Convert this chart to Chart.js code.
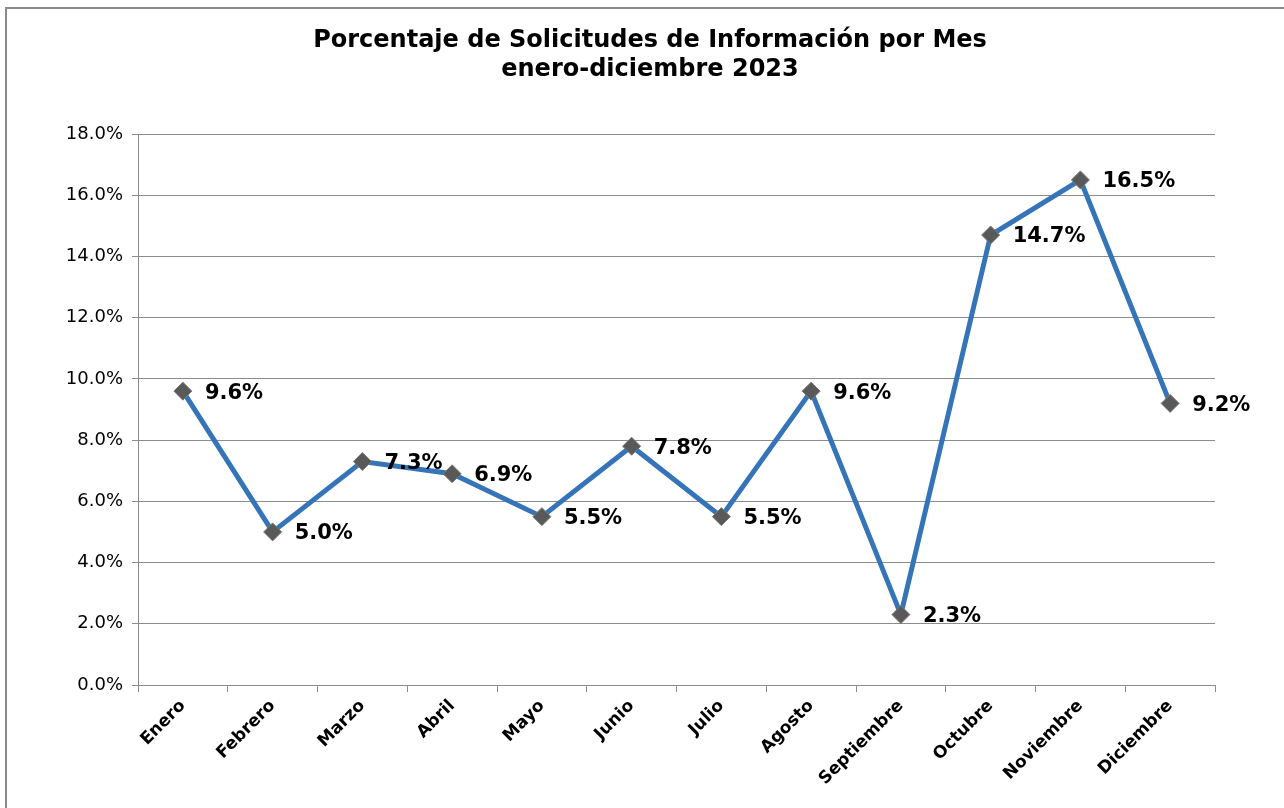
<!DOCTYPE html>
<html>
<head>
<meta charset="utf-8">
<script src="https://cdn.jsdelivr.net/npm/chart.js@4"></script>
<style>
  html, body { margin: 0; padding: 0; background: #fff; }
  #wrap { width: 1284px; height: 808px; position: relative; }
</style>
</head>
<body>
<div id="wrap"><canvas id="chart" width="1284" height="808"></canvas></div>
<script>
// Chart data
const months = ["Enero", "Febrero", "Marzo", "Abril", "Mayo", "Junio", "Julio", "Agosto", "Septiembre", "Octubre", "Noviembre", "Diciembre"]
const percentages = [9.6, 5.0, 7.3, 6.9, 5.5, 7.8, 5.5, 9.6, 2.3, 14.7, 16.5, 9.2]
const titleLines = ["Porcentaje de Solicitudes de Información por Mes", "enero-diciembre 2023"]
const yMax = 18
const yStep = 2

const FONT = "'DejaVu Sans', Verdana, sans-serif"
const LINE_BLUE = "#3474b7"
const GRID = "#8c8c8c"

// Frame, title and point labels
const decorations = {
  id: "decorations",
  beforeDraw(chart) {
    const ctx = chart.ctx
    ctx.save()
    ctx.fillStyle = "#fff"
    ctx.fillRect(0, 0, chart.width, chart.height)
    ctx.strokeStyle = "#8a8a8a"
    ctx.lineWidth = 2
    ctx.beginPath()
    ctx.moveTo(6, chart.height)
    ctx.lineTo(6, 8)
    ctx.lineTo(chart.width, 8)
    ctx.stroke()
    ctx.restore()
  },
  afterDraw(chart) {
    const ctx = chart.ctx
    ctx.save()
    ctx.fillStyle = "#000"
    ctx.textAlign = "center"
    ctx.textBaseline = "middle"
    ctx.font = "bold 24px " + FONT
    ctx.fillText(titleLines[0], 650, 41)
    ctx.fillText(titleLines[1], 650, 70)

    ctx.font = "bold 21px " + FONT
    ctx.textAlign = "left"
    const meta = chart.getDatasetMeta(0)
    meta.data.forEach((pt, i) => {
      ctx.fillText(percentages[i].toFixed(1) + "%", pt.x + 22, pt.y + 2)
    })
    ctx.restore()
  },
}

new Chart(document.getElementById("chart"), {
  type: "line",
  data: {
    labels: months,
    datasets: [{
      data: percentages,
      borderColor: LINE_BLUE,
      borderWidth: 5,
      tension: 0,
      pointStyle: "rectRot",
      pointRadius: 9,
      pointHoverRadius: 9,
      pointBackgroundColor: "#595959",
      pointBorderColor: "#7a7a7a",
      pointBorderWidth: 1,
    }],
  },
  options: {
    responsive: false,
    animation: false,
    layout: { padding: { top: 134, left: 16, right: 69, bottom: 0 } },
    plugins: {
      legend: { display: false },
      title: { display: false },
      tooltip: { enabled: false },
    },
    scales: {
      x: {
        offset: true,
        grid: { offset: true, drawOnChartArea: false, color: GRID, tickLength: 7 },
        border: { color: GRID, width: 1 },
        ticks: {
          color: "#000",
          font: { family: FONT, size: 17, weight: "bold" },
          maxRotation: 45,
          minRotation: 45,
          padding: 4,
        },
        afterFit(axis) { axis.height = 123 },
      },
      y: {
        min: 0,
        max: yMax,
        ticks: {
          stepSize: yStep,
          color: "#000",
          font: { family: FONT, size: 18 },
          padding: 9,
          callback: (v) => v.toFixed(1) + "%",
        },
        grid: { color: GRID, tickLength: 6 },
        border: { color: GRID, width: 1 },
        afterFit(axis) { axis.width = 122 },
      },
    },
  },
  plugins: [decorations],
})
</script>
</body>
</html>
